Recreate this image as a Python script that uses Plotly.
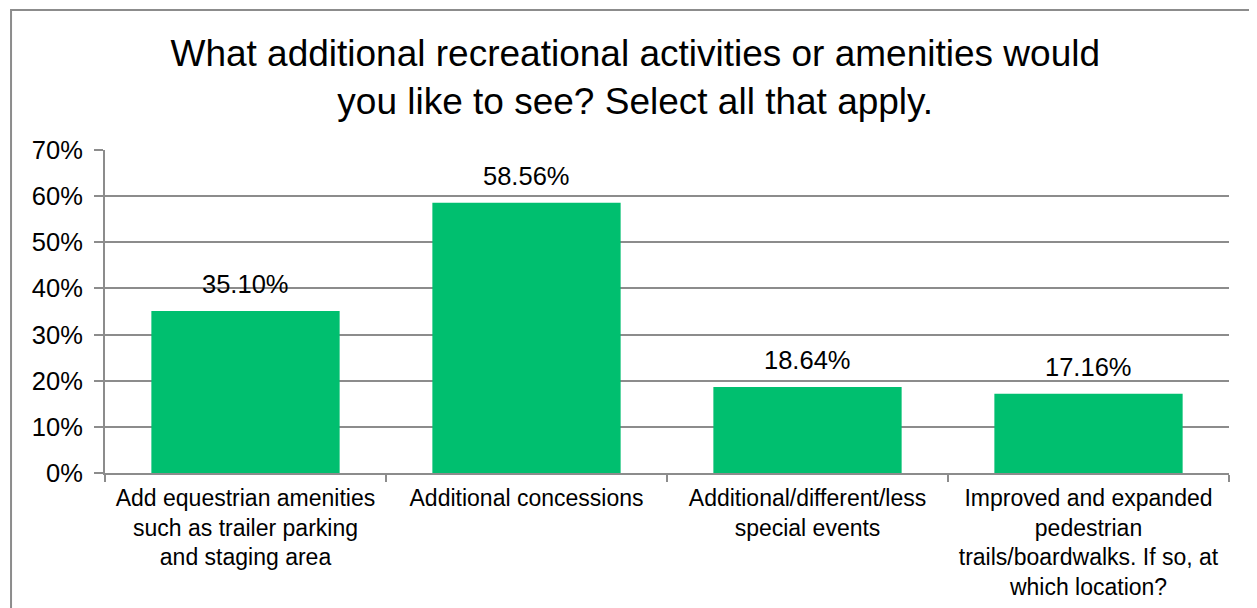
import plotly.graph_objects as go

categories = [
    "Add equestrian amenities<br>such as trailer parking<br>and staging area",
    "Additional concessions",
    "Additional/different/less<br>special events",
    "Improved and expanded<br>pedestrian<br>trails/boardwalks. If so, at<br>which location?",
]
values = [35.10, 58.56, 18.64, 17.16]
labels = ["35.10%", "58.56%", "18.64%", "17.16%"]
title_text = "What additional recreational activities or amenities would<br>you like to see? Select all that apply."

GREEN = "#00BF6F"
GRAY = "#8C8C8C"
FONT = "Liberation Sans, Arial, sans-serif"

fig = go.Figure()
fig.add_trace(go.Bar(x=categories, y=values, marker=dict(color=GREEN, line=dict(width=0)),
                     hoverinfo="skip"))

for c, v, t in zip(categories, values, labels):
    fig.add_annotation(x=c, y=v, text=t, showarrow=False, yanchor="bottom",
                       yshift=11, font=dict(family=FONT, size=25.5, color="#000000"))

fig.update_layout(
    width=1257, height=608,
    margin=dict(l=97, r=36, t=142, b=143),
    paper_bgcolor="white", plot_bgcolor="white",
    bargap=0.33,
    showlegend=False,
    title=dict(text=title_text, x=0.499, xanchor="center", y=0.905, yanchor="middle",
               yref="container", font=dict(family=FONT, size=37, color="#000000")),
    font=dict(family=FONT, size=23.5, color="#000000"),
    xaxis=dict(showline=True, linecolor=GRAY, linewidth=2, ticks="outside",
               tickson="boundaries", ticklen=7, tickcolor=GRAY, tickwidth=2,
               showgrid=False, tickfont=dict(size=23), ticklabelstandoff=3),
    yaxis=dict(range=[0, 70], dtick=10, ticksuffix="%", showline=True, linecolor=GRAY,
               linewidth=2, ticks="outside", ticklen=9, tickcolor=GRAY, tickwidth=2,
               showgrid=True, gridcolor=GRAY, gridwidth=2, zeroline=False,
               tickfont=dict(size=25.5), ticklabelstandoff=6),
    shapes=[dict(type="rect", xref="paper", yref="paper",
                 x0=-0.0836, x1=1.5, y0=-1.0, y1=1.4334,
                 line=dict(color=GRAY, width=2), layer="below")],
)

fig.write_html("out.html")
